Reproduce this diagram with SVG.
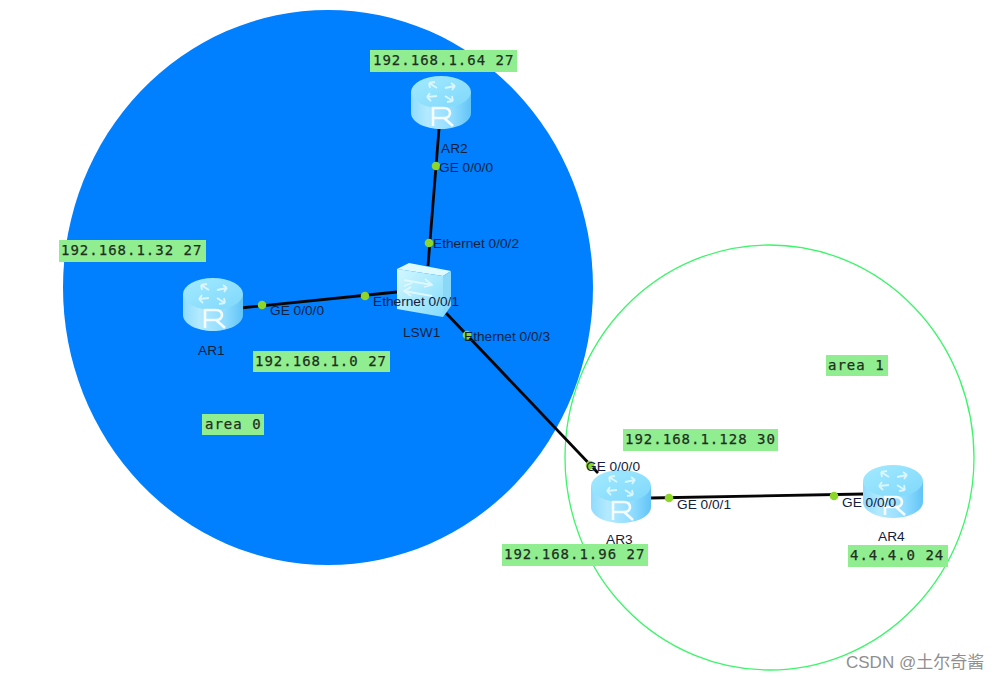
<svg xmlns="http://www.w3.org/2000/svg" width="998" height="680" viewBox="0 0 998 680">
<style>
.tag{fill:#90ee90}
.mono{font-family:"DejaVu Sans Mono","Liberation Mono",monospace;font-size:14px;letter-spacing:1px;fill:#1f2f1f;stroke:#1f2f1f;stroke-width:.25}
.lbl{font-family:"Liberation Sans",Arial,sans-serif;font-size:13.7px;fill:#14213d}
.lnk{stroke:#050505;stroke-width:2.8;fill:none}
.dot{fill:#8fd62a}
.arrow{fill:none;stroke:#e6f9ff;stroke-width:1.8;stroke-linejoin:round;opacity:.85}
</style>
<defs>
<linearGradient id="body" x1="0" x2="1" y1="0" y2="0">
<stop offset="0" stop-color="#8fdcff"/><stop offset=".28" stop-color="#b4eaff"/><stop offset=".7" stop-color="#8fdcff"/><stop offset="1" stop-color="#62c4f6"/>
</linearGradient>
<linearGradient id="top" x1="0" x2="1" y1="0" y2="1">
<stop offset="0" stop-color="#a3eaff"/><stop offset="1" stop-color="#7fd8fb"/>
</linearGradient>
<linearGradient id="swf" x1="0" x2="1" y1="0" y2="1">
<stop offset="0" stop-color="#d2f8ff"/><stop offset="1" stop-color="#85dcfc"/>
</linearGradient>
<g id="router">
<path d="M-30 16V37C-30 46 -16 53 0 53S30 46 30 37V16Z" fill="url(#body)"/>
<ellipse cx="0" cy="16" rx="30" ry="16" fill="url(#top)"/>
<path class="arrow" d="M-4 12L-12 7M-12 7L-11 12M-12 7L-6 6M-4 20L-14 21M-14 21L-11 17M-14 21L-10 25M4 12L14 10M14 10L10 7M14 10L11 14M4 20L12 25M12 25L11 20M12 25L6 26"/>
<path d="M-8 50V32H3C11 32 11 42 3 42H-8M3 42L12 50" fill="none" stroke="#f4fcff" stroke-width="2.6"/>
</g>
</defs>
<rect width="998" height="680" fill="#fff"/>
<g id="areas">
<ellipse cx="328" cy="287.5" rx="265" ry="277.5" fill="#007fff"/>
<ellipse cx="769.5" cy="457.5" rx="204.5" ry="212.5" fill="none" stroke="#3cf56a" stroke-width="1.3"/>
</g>
<g id="connectors">
<path class="lnk" d="M439 129L428 266"/>
<path class="lnk" d="M240 308L397 292"/>
<path class="lnk" d="M446 313L598 473"/>
<path class="lnk" d="M650 498L864 494"/>
<circle class="dot" cx="436" cy="166" r="4.3"/>
<circle class="dot" cx="429" cy="243" r="4.3"/>
<circle class="dot" cx="262" cy="305" r="4.3"/>
<circle class="dot" cx="365" cy="296" r="4.3"/>
<circle class="dot" cx="467" cy="335" r="4.3"/>
<circle class="dot" cx="590" cy="465" r="4.3"/>
<circle class="dot" cx="669" cy="498" r="4.3"/>
<circle class="dot" cx="834" cy="496" r="4.3"/>
</g>
<g id="AR2"><use href="#router" x="441" y="76"/><text class="lbl" x="441" y="153">AR2</text></g>
<g id="AR1"><use href="#router" x="213" y="278"/><text class="lbl" x="198" y="355">AR1</text></g>
<g id="AR3"><use href="#router" x="621" y="470"/><text class="lbl" x="606" y="544">AR3</text></g>
<g id="AR4"><use href="#router" x="893" y="465"/><text class="lbl" x="878" y="541">AR4</text></g>
<g id="LSW1">
<path d="M397 269L409 263L451 271L443 276Z" fill="#dcfaff"/>
<path d="M443 276L451 271V306L443 317Z" fill="#8ad8f8"/>
<path d="M397 269L443 276V317L397 309Z" fill="url(#swf)"/>
<path class="arrow" d="M404 280L432 285L425 279M432 285L424 287M404 286L412 283M432 296L404 291L411 287M404 291L411 296"/>
<text class="lbl" x="403" y="337">LSW1</text>
</g>
<g id="port-labels">
<text class="lbl" x="439" y="172">GE 0/0/0</text>
<text class="lbl" x="433" y="248">Ethernet 0/0/2</text>
<text class="lbl" x="270" y="315">GE 0/0/0</text>
<text class="lbl" x="373" y="306">Ethernet 0/0/1</text>
<text class="lbl" x="464" y="341">Ethernet 0/0/3</text>
<text class="lbl" x="586" y="471">GE 0/0/0</text>
<text class="lbl" x="677" y="509">GE 0/0/1</text>
<text class="lbl" x="842" y="507">GE 0/0/0</text>
</g>
<g id="tag-1"><rect class="tag" x="370" y="50" width="147" height="22"/><text class="mono" x="373" y="65">192.168.1.64 27</text></g>
<g id="tag-2"><rect class="tag" x="59" y="240" width="147" height="22"/><text class="mono" x="61" y="255">192.168.1.32 27</text></g>
<g id="tag-3"><rect class="tag" x="253" y="351" width="137" height="21"/><text class="mono" x="255" y="366">192.168.1.0 27</text></g>
<g id="tag-4"><rect class="tag" x="202" y="414" width="62" height="21"/><text class="mono" x="205" y="429">area 0</text></g>
<g id="tag-5"><rect class="tag" x="826" y="355" width="62" height="21"/><text class="mono" x="828" y="370">area 1</text></g>
<g id="tag-6"><rect class="tag" x="623" y="429" width="155" height="22"/><text class="mono" x="625" y="444">192.168.1.128 30</text></g>
<g id="tag-7"><rect class="tag" x="502" y="544" width="146" height="22"/><text class="mono" x="504" y="559">192.168.1.96 27</text></g>
<g id="tag-8"><rect class="tag" x="848" y="545" width="100" height="22"/><text class="mono" x="850" y="560">4.4.4.0 24</text></g>
<text x="846" y="668" font-family="'Liberation Sans','Noto Sans CJK SC',sans-serif" font-size="17" fill="#8f8f8f">CSDN @土尔奇酱</text>
</svg>
